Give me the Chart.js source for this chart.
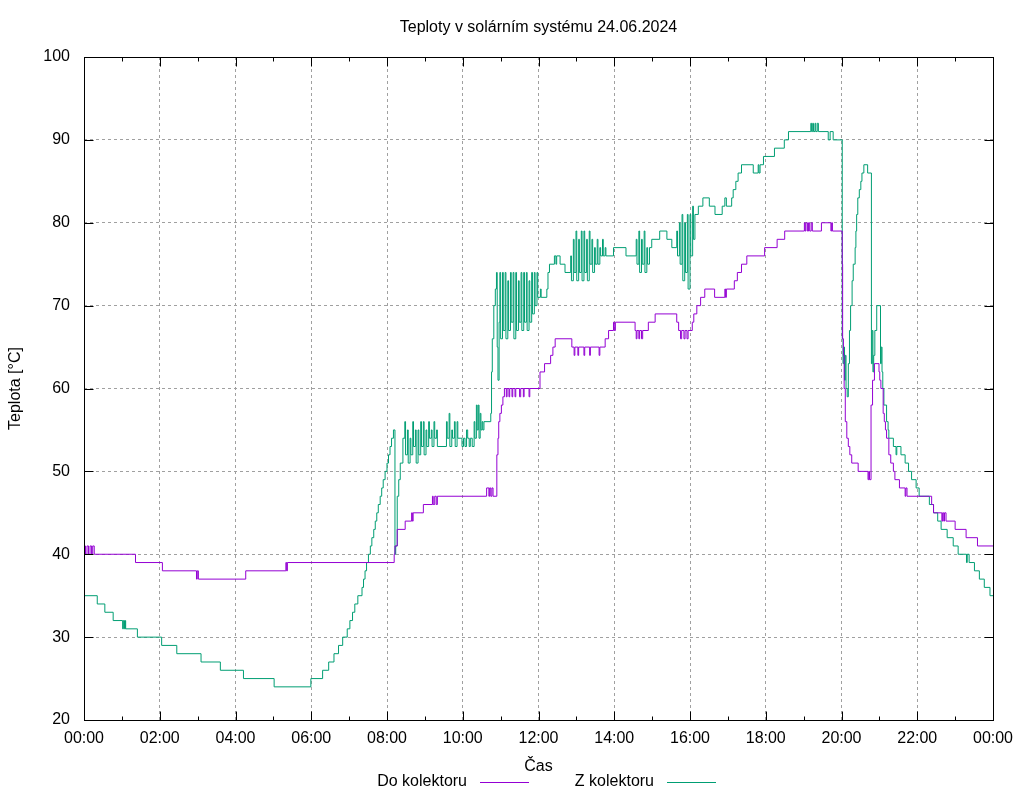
<!DOCTYPE html>
<html>
<head>
<meta charset="utf-8">
<title>Teploty v solárním systému</title>
<script src="https://cdn.jsdelivr.net/npm/chart.js@4"></script>
<style>
  html, body { margin: 0; padding: 0; background: #fff; }
  #wrap { width: 1024px; height: 800px; }
</style>
</head>
<body>
<div id="wrap"><canvas id="chart" width="1024" height="800"></canvas></div>
<script>
// Colors (gnuplot defaults)
const COLORS = {
    doKolektoru: '#9400d3',
    zKolektoru: '#009e73',
    grid: '#a0a0a0',
    text: '#000000',
};

const chartTitle = 'Teploty v solárním systému 24.06.2024';
const xTickLabels = ['00:00', '02:00', '04:00', '06:00', '08:00', '10:00', '12:00',
    '14:00', '16:00', '18:00', '20:00', '22:00', '00:00'];

// Do kolektoru - time (hours) / temperature (°C)
const doHours = [
    0, 0.04, 0.08, 0.12, 0.16, 0.2, 0.23, 0.27,
    1.36, 2.07, 2.97, 2.99, 3.02, 4.27, 5.33, 5.35, 5.37,
    8.19, 8.21, 8.27, 8.48, 8.65, 8.67, 8.69, 8.96, 9.2, 9.22, 9.26, 9.3, 9.33,
    10.63, 10.69, 10.71, 10.74, 10.77, 10.8,
    10.9, 10.93, 10.95, 10.98, 11.02, 11.06, 11.1,
    11.15, 11.17, 11.22, 11.24, 11.3, 11.32, 11.38, 11.4, 11.5, 11.53, 11.6, 11.62, 11.75, 11.77,
    12.04, 12.16, 12.32, 12.38, 12.44,
    12.88, 12.94, 12.96, 13.04, 13.06, 13.2, 13.22, 13.35, 13.37, 13.6, 13.62,
    13.76, 13.85, 13.98, 14.0, 14.03,
    14.55, 14.58, 14.6, 14.65, 14.67, 14.72, 14.75,
    14.9, 15.08,
    15.65, 15.7, 15.75, 15.78, 15.84, 15.87, 15.92, 15.95,
    16.06, 16.1, 16.18, 16.28, 16.39, 16.65, 16.92, 16.94, 16.96,
    17.17, 17.25, 17.36, 17.5, 17.97, 18.3, 18.5,
    19.02, 19.04, 19.06, 19.1, 19.13, 19.16, 19.2, 19.23, 19.47, 19.72, 19.74, 19.76,
    20.02, 20.03, 20.05, 20.07, 20.1, 20.14, 20.18, 20.22, 20.27, 20.44, 20.7, 20.72, 20.74,
    20.78, 20.82, 20.87, 20.99, 21.01, 21.04, 21.1, 21.13, 21.16, 21.19, 21.25, 21.3, 21.37, 21.41, 21.53, 21.68, 21.7, 21.73,
    22.38, 22.43, 22.65, 22.67, 22.7, 22.72, 22.76, 23.0, 23.29, 23.59, 24
];
const doTemps = [
    41, 40, 41, 40, 41, 40, 41, 40,
    39, 38, 37, 38, 37, 38, 39, 38, 39,
    40, 41, 43, 44, 45, 44, 45, 46, 47, 46, 47, 46, 47,
    48, 47, 48, 47, 48, 47,
    52, 54, 56, 57, 58, 59, 60,
    59, 60, 59, 60, 59, 60, 59, 60, 59, 60, 59, 60, 59, 60,
    62, 63, 64, 65, 66,
    65, 64, 65, 64, 65, 64, 65, 64, 65, 64, 65,
    66, 67, 68, 67, 68,
    67, 66, 67, 66, 67, 66, 67,
    68, 69,
    68, 67, 66, 67, 66, 67, 66, 67,
    68, 69, 70, 71, 72, 71, 72, 71, 72,
    73, 74, 75, 76, 77, 78, 79,
    80, 79, 80, 79, 80, 79, 80, 79, 80, 79, 80, 79,
    75, 66, 64, 60, 56, 54, 53, 52, 51, 50, 49, 50, 49,
    58, 61, 63, 62, 61, 60, 57, 56, 55, 54, 52, 51, 50, 49, 48, 47, 48, 47,
    46, 45, 44, 45, 44, 45, 44, 43, 42, 41, 41
];

// Z kolektoru - time (hours) / temperature (°C)
const zHours = [
    0, 0.35, 0.55, 0.77, 1.02, 1.04, 1.07, 1.09, 1.1, 1.41, 2.05, 2.45, 3.09, 3.6, 4.21, 5.02,
    5.99, 6.3, 6.46, 6.6, 6.72, 6.83, 6.95, 7.02, 7.09, 7.15, 7.23, 7.34, 7.38, 7.42, 7.46,
    7.51, 7.56, 7.6, 7.65, 7.69, 7.73, 7.77, 7.82, 7.86, 7.9, 7.95, 8.0, 8.04, 8.08, 8.12, 8.17,
    8.21, 8.23, 8.27, 8.31, 8.35, 8.42,
    8.47, 8.49, 8.54, 8.56, 8.61, 8.63, 8.68, 8.7, 8.75, 8.77, 8.82, 8.84, 8.89,
    8.91, 8.96, 8.98, 9.03, 9.05, 9.1, 9.12, 9.17, 9.19, 9.24, 9.26, 9.31, 9.33,
    9.57, 9.59, 9.64, 9.66, 9.71, 9.73, 9.78, 9.8, 9.85, 9.87,
    9.93, 9.98, 10.02, 10.06, 10.1, 10.13, 10.17, 10.2, 10.25,
    10.3, 10.32, 10.36, 10.38, 10.41, 10.43, 10.46, 10.48, 10.51, 10.53, 10.56,
    10.74, 10.76, 10.78, 10.82, 10.86,
    10.89, 10.91, 10.93, 10.96, 10.98, 11.0, 11.05, 11.07, 11.12, 11.14, 11.19, 11.21,
    11.26, 11.28, 11.33, 11.35, 11.4, 11.42, 11.47, 11.49, 11.54, 11.56, 11.61, 11.63,
    11.68, 11.7, 11.75, 11.77, 11.82, 11.84, 11.89, 11.91, 11.96, 11.98,
    12.05, 12.07, 12.22, 12.25, 12.29, 12.42, 12.46, 12.48, 12.57, 12.7,
    12.85, 12.87, 12.92, 12.94, 12.99, 13.01, 13.06, 13.08, 13.13, 13.15, 13.2, 13.22,
    13.27, 13.29, 13.34, 13.36, 13.41, 13.43, 13.48, 13.5, 13.55, 13.57, 13.62, 13.64,
    13.69, 13.71, 13.76, 13.78, 13.98, 14.31,
    14.58, 14.6, 14.65, 14.67, 14.72, 14.74, 14.79, 14.81, 14.86, 14.88, 14.93,
    14.99, 15.2, 15.39, 15.52,
    15.65, 15.67, 15.72, 15.74, 15.79, 15.81, 15.86, 15.88, 15.93, 15.95, 16.0, 16.02,
    16.07, 16.09,
    16.13, 16.22, 16.34, 16.51, 16.66, 16.85, 16.92, 16.96, 17.1, 17.14, 17.21, 17.27, 17.36,
    17.67, 17.8, 17.82, 17.85, 17.94, 18.23, 18.49, 18.6,
    19.19, 19.21, 19.24, 19.26, 19.3, 19.32, 19.36, 19.39, 19.65, 19.7, 19.78,
    20.02, 20.04, 20.06, 20.08, 20.1, 20.12, 20.15, 20.18, 20.21, 20.24, 20.28, 20.31, 20.36,
    20.38, 20.4, 20.43, 20.47, 20.51, 20.54, 20.59, 20.69,
    20.79, 20.81, 20.83, 20.85, 20.88, 20.93, 21.03, 21.05, 21.07, 21.09, 21.12, 21.19, 21.23,
    21.25, 21.37, 21.44, 21.46, 21.57, 21.68, 21.77, 21.85, 21.97, 22.05, 22.32, 22.43, 22.54,
    22.63, 22.79, 22.95, 23.08, 23.3, 23.32, 23.37, 23.51, 23.64, 23.77, 23.92, 24
];
const zTemps = [
    35, 34, 33, 32, 31, 32, 31, 32, 31, 30, 29, 28, 27, 26, 25, 24,
    25, 26, 27, 28, 29, 30, 31, 32, 33, 34, 35, 36, 37, 38, 39,
    40, 41, 42, 43, 44, 45, 46, 47, 48, 49, 50, 51, 52, 53, 54, 55,
    40, 41, 47, 49, 51, 54,
    56, 52, 55, 51, 54, 52, 56, 53, 55, 51, 55, 52, 56,
    53, 56, 52, 55, 53, 56, 54, 55, 53, 56, 54, 55, 53,
    56, 54, 57, 53, 55, 54, 56, 53, 56, 54,
    54, 53, 54, 53, 55, 54, 53, 54, 53,
    56, 54, 58, 55, 58, 54, 57, 55, 56, 55, 56,
    57, 62, 66, 70, 72,
    74, 65, 61, 68, 74, 66, 74, 67, 74, 66, 73, 67,
    74, 68, 74, 66, 74, 67, 73, 68, 74, 67, 74, 68,
    74, 67, 73, 68, 74, 69, 74, 70, 74, 71,
    72, 71, 72, 74, 75, 76, 75, 76, 75, 74,
    76, 73, 78, 74, 79, 73, 78, 74, 79, 73, 79, 74,
    78, 73, 79, 75, 78, 74, 77, 75, 78, 75, 77, 76,
    78, 76, 77, 76, 77, 76,
    78, 75, 79, 74, 78, 75, 79, 74, 77, 75, 77,
    78, 79, 78, 77,
    79, 76, 80, 75, 81, 73, 80, 74, 81, 72, 81, 76,
    82, 78,
    81, 82, 83, 82, 81, 82, 83, 82, 83, 84, 85, 86, 87,
    86, 87, 86, 87, 88, 89, 90, 91,
    92, 91, 92, 91, 92, 91, 92, 91, 90, 91, 90,
    66, 63, 65, 61, 64, 60, 59, 63, 67, 70, 73, 75, 77,
    79, 81, 83, 84, 85, 86, 87, 86,
    63, 67, 62, 64, 67, 70, 63, 65, 62, 60, 58, 56, 55,
    54, 53, 52, 53, 52, 51, 50, 49, 48, 47, 46, 45, 44,
    43, 42, 41, 40, 39, 40, 39, 38, 37, 36, 35, 35
];

const hourTicks = [0, 1, 2, 3, 4, 5, 6, 7, 8, 9, 10, 11, 12, 13, 14, 15, 16, 17, 18, 19, 20, 21, 22, 23, 24];
const tempTicks = [20, 30, 40, 50, 60, 70, 80, 90, 100];

const toPoints = (xs, ys) => xs.map((h, i) => ({ x: h, y: ys[i] }));

const FONT = '"Liberation Sans", Arial, sans-serif';
Chart.defaults.font.family = FONT;
Chart.defaults.font.size = 16;
Chart.defaults.color = COLORS.text;

// gnuplot style title, frame, inward ticks and legend (text then line sample)
const framePlugin = {
    id: 'frame',
    afterDatasetsDraw(chart) {
        const { ctx, chartArea: a, scales: { x, y } } = chart;
        const L = Math.round(a.left) + 0.5, R = Math.round(a.right) + 0.5;
        const T = Math.round(a.top) + 0.5, B = Math.round(a.bottom) + 0.5;
        ctx.save();
        ctx.strokeStyle = '#000';
        ctx.lineWidth = 1;
        ctx.beginPath();
        hourTicks.forEach(h => {
            const px = Math.round(x.getPixelForValue(h)) + 0.5;
            const len = h % 2 === 0 ? 9 : 4;
            ctx.moveTo(px, B); ctx.lineTo(px, B - len);
            ctx.moveTo(px, T); ctx.lineTo(px, T + len);
        });
        tempTicks.forEach(t => {
            const py = Math.round(y.getPixelForValue(t)) + 0.5;
            ctx.moveTo(L, py); ctx.lineTo(L + 9, py);
            ctx.moveTo(R, py); ctx.lineTo(R - 9, py);
        });
        ctx.stroke();
        ctx.strokeRect(L, T, R - L, B - T);

        ctx.font = '16px ' + FONT;
        ctx.fillStyle = COLORS.text;
        ctx.textBaseline = 'middle';

        // title, centred over the plot area
        ctx.textAlign = 'center';
        ctx.fillText(chartTitle, (a.left + a.right) / 2, 28);

        // legend
        ctx.textAlign = 'right';
        const ly = 782;
        chart.data.datasets.forEach((ds, i) => {
            const tx = i === 0 ? 467 : 654;
            ctx.fillText(ds.label, tx, ly);
            ctx.strokeStyle = ds.borderColor;
            ctx.beginPath();
            ctx.moveTo(tx + 13, ly + 0.5);
            ctx.lineTo(tx + 62, ly + 0.5);
            ctx.stroke();
        });
        ctx.restore();
    }
};

new Chart(document.getElementById('chart'), {
    type: 'line',
    data: {
        datasets: [
            {
                label: 'Do kolektoru',
                data: toPoints(doHours, doTemps),
                borderColor: COLORS.doKolektoru,
                backgroundColor: 'transparent',
                borderWidth: 1,
                pointRadius: 0,
                stepped: true,
            },
            {
                label: 'Z kolektoru',
                data: toPoints(zHours, zTemps),
                borderColor: COLORS.zKolektoru,
                backgroundColor: 'transparent',
                borderWidth: 1,
                pointRadius: 0,
                stepped: true,
            }
        ]
    },
    options: {
        responsive: false,
        animation: false,
        devicePixelRatio: 1,
        layout: { padding: { left: 0, right: 31, top: 57, bottom: 0 } },
        plugins: {
            legend: { display: false },
            tooltip: { enabled: false },
            title: { display: false }
        },
        scales: {
            x: {
                type: 'linear',
                min: 0,
                max: 24,
                afterFit: s => { s.height = 80; },
                grid: { color: COLORS.grid, drawTicks: false },
                border: { display: false, dash: [3, 3] },
                ticks: {
                    stepSize: 2,
                    padding: 9,
                    maxRotation: 0,
                    autoSkip: false,
                    color: COLORS.text,
                    callback: (v, i) => xTickLabels[i]
                },
                title: { display: true, text: 'Čas', color: COLORS.text, font: { size: 16 }, padding: { top: 0, bottom: 24 } }
            },
            y: {
                min: 20,
                max: 100,
                afterFit: s => { s.width = 84; },
                grid: { color: COLORS.grid, drawTicks: false },
                border: { display: false, dash: [3, 3] },
                ticks: { stepSize: 10, padding: 14, color: COLORS.text },
                title: { display: true, text: 'Teplota [°C]', color: COLORS.text, font: { size: 16 }, padding: { top: 6, bottom: 0 } }
            }
        }
    },
    plugins: [framePlugin]
});
</script>
</body>
</html>
